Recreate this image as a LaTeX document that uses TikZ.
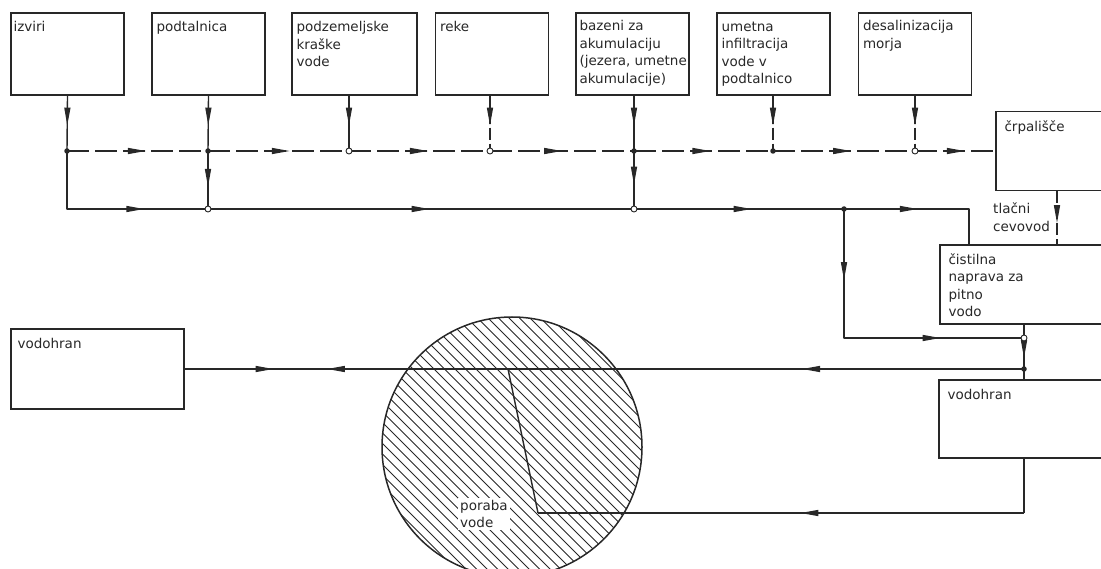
\documentclass[tikz,border=0pt]{standalone}
\usepackage{fontspec}
\setmainfont{DejaVu Sans}
\usetikzlibrary{arrows.meta,decorations.markings}
\definecolor{ink}{RGB}{40,40,40}

\begin{document}
\begin{tikzpicture}[
    x=1pt, y=-1pt,
    color=ink,
    % Define Styles
    box/.style={
        draw,
        rectangle,
        line width=1.3pt,
        inner sep=0pt
    },
    topbox/.style={
        box,
        minimum width=113pt,
        minimum height=82pt
    },
    lbl/.style={
        anchor=north west,
        align=left,
        inner sep=0pt,
        font=\fontsize{13.5}{17.5}\selectfont
    },
    pipe/.style={
        draw,
        line width=1.4pt,
        line join=round
    },
    dashpipe/.style={
        pipe,
        dash pattern=on 22pt off 6pt
    },
    droppipe/.style={
        pipe,
        dash pattern=on 12pt off 4pt
    },
    flow/.style={
        postaction={decorate, decoration={markings,
            mark=at position #1 with {\arrow{Triangle[length=18pt,width=6pt]}}}}
    },
    flowback/.style={
        postaction={decorate, decoration={markings,
            mark=at position #1 with {\arrowreversed{Triangle[length=18pt,width=6pt]}}}}
    },
    fulldot/.style={
        circle,
        fill,
        inner sep=0pt,
        minimum size=5.5pt
    },
    opendot/.style={
        circle,
        draw,
        fill=white,
        line width=0.9pt,
        inner sep=0pt,
        minimum size=6pt
    },
    hatch/.style={
        line width=0.9pt
    }
    ]

    % Page
    \fill[white] (0,0) rectangle (1101,569);
    \useasboundingbox (0,0) rectangle (1101,569);

    % Define Coordinates
    \coordinate (j1) at (67,151);    % dashed collector
    \coordinate (j2) at (208,151);
    \coordinate (j3) at (349,151);
    \coordinate (j4) at (490,151);
    \coordinate (j5) at (634,151);
    \coordinate (j6) at (773,151);
    \coordinate (j7) at (915,151);
    \coordinate (k1) at (67,209);    % solid collector
    \coordinate (k2) at (208,209);
    \coordinate (k3) at (634,209);
    \coordinate (k4) at (844,209);
    \coordinate (k5) at (969,209);
    \coordinate (m1) at (844,338);   % bypass
    \coordinate (m2) at (1024,338);
    \coordinate (m3) at (1024,369);
    \coordinate (p1) at (1057,0);    % pressure main
    \coordinate (r1) at (1024,513);  % return
    \coordinate (r2) at (538,513);
    \coordinate (r3) at (508,369);
    \coordinate (pc) at (512,447);   % consumption

    % Boxes
    \node[topbox] (izviri) at (67.5,54) {};
    \node[topbox] (podtalnica) at (208.5,54) {};
    \node[topbox, minimum width=125pt] (podzemne) at (354.5,54) {};
    \node[topbox] (reke) at (492,54) {};
    \node[topbox] (bazeni) at (632.5,54) {};
    \node[topbox] (umetna) at (773.5,54) {};
    \node[topbox] (desal) at (915,54) {};
    \node[box, minimum width=115pt, minimum height=79pt] (crpalisce) at (1053.5,151) {};
    \node[box, minimum width=170pt, minimum height=79pt] (cistilna) at (1025,284.5) {};
    \node[box, minimum width=171pt, minimum height=78pt] (vodohranR) at (1024.5,419) {};
    \node[box, minimum width=173pt, minimum height=80pt] (vodohranL) at (97.5,369) {};

    % Consumption circle
    \begin{scope}
        \clip (pc) circle (130);
        \foreach \s in {-346.5,-336,...,346.5}
            \draw[hatch] ([shift={(\s-200,-200)}]pc) -- ([shift={(\s+200,200)}]pc);
    \end{scope}
    \node[circle, draw, line width=1.5pt, minimum size=260pt, inner sep=0pt] (poraba) at (pc) {};

    % Drops from the sources
    \draw[pipe, flow=0.54] (izviri.south) -- (j1);
    \draw[pipe, flow=0.54] (podtalnica.south) -- (j2);
    \draw[pipe, flow=0.54] (podzemne.south -| j3) -- (j3);
    \draw[droppipe, flow=0.54] (reke.south -| j4) -- (j4);
    \draw[pipe, flow=0.54] (bazeni.south -| j5) -- (j5);
    \draw[droppipe, flow=0.54] (umetna.south -| j6) -- (j6);
    \draw[droppipe, flow=0.54] (desal.south) -- (j7);

    % Dashed collector
    \draw[dashpipe, flow=0.56] (j1) -- (j2);
    \draw[dashpipe, flow=0.58] (j2) -- (j3);
    \draw[dashpipe, flow=0.56] (j3) -- (j4);
    \draw[dashpipe, flow=0.5] (j4) -- (j5);
    \draw[dashpipe, flow=0.55] (j5) -- (j6);
    \draw[dashpipe, flow=0.55] (j6) -- (j7);
    \draw[dashpipe, flow=0.62] (j7) -- (crpalisce.west);

    % Solid collector
    \draw[pipe, flow=0.68] (j1) -- (k1) -- (k2);
    \draw[pipe, flow=0.62] (j2) -- (k2);
    \draw[pipe, flow=0.52] (k2) -- (k3);
    \draw[pipe, flow=0.58] (j5) -- (k3);
    \draw[pipe, flow=0.56] (k3) -- (k4);
    \draw[pipe, flow=0.46] (k4) -- (k5) -- (cistilna.north -| k5);
    \draw[pipe, flow=0.23, flow=0.73] (k4) -- (m1) -- (m2);

    % Pressure main and storage
    \draw[droppipe, flow=0.6] (crpalisce.south -| p1) -- (cistilna.north -| p1);
    \draw[pipe] (cistilna.south -| m2) -- (m2);
    \draw[pipe, flow=0.65] (m2) -- (m3);
    \draw[pipe] (m3) -- (vodohranR.north -| m3);

    % Distribution and return
    \draw[pipe, flow=0.43] (m3) -- (r3);
    \draw[pipe, flow=0.56, flowback=0.725] (r3) -- (vodohranL.east);
    \draw[pipe] (vodohranR.south -| r1) -- (r1);
    \draw[pipe, flow=0.46] (r1) -- (r2);
    \draw[pipe] (r2) -- (r3);

    % Junctions
    \foreach \c in {j1,j2,j5,j6,k4,m3}
        \node[fulldot] (dot-\c) at (\c) {};
    \foreach \c in {j3,j4,j7,k2,k3,m2}
        \node[opendot] (dot-\c) at (\c) {};

    % Labels
    \node[lbl] (t-izviri) at ([xshift=3pt,yshift=-9pt]izviri.north west) {izviri};
    \node[lbl] (t-podtalnica) at ([xshift=5pt,yshift=-9pt]podtalnica.north west) {podtalnica};
    \node[lbl] (t-podzemne) at ([xshift=5pt,yshift=-9pt]podzemne.north west) {podzemeljske\\kraške\\vode};
    \node[lbl] (t-reke) at ([xshift=5pt,yshift=-9pt]reke.north west) {reke};
    \node[lbl] (t-bazeni) at ([xshift=4pt,yshift=-8pt]bazeni.north west) {bazeni za\\akumulaciju\\(jezera, umetne\\akumulacije)};
    \node[lbl] (t-umetna) at ([xshift=5pt,yshift=-9pt]umetna.north west) {umetna\\infiltracija\\vode v\\podtalnico};
    \node[lbl] (t-desal) at ([xshift=5pt,yshift=-8pt]desal.north west) {desalinizacija\\morja};
    \node[lbl] (t-crpalisce) at ([xshift=9pt,yshift=-10pt]crpalisce.north west) {črpališče};
    \node[lbl] (t-tlacni) at (993,203) {tlačni\\cevovod};
    \node[lbl] (t-cistilna) at ([xshift=9pt,yshift=-9pt]cistilna.north west) {čistilna\\naprava za\\pitno\\vodo};
    \node[lbl] (t-vodohranR) at ([xshift=9pt,yshift=-10pt]vodohranR.north west) {vodohran};
    \node[lbl] (t-vodohranL) at ([xshift=7pt,yshift=-10pt]vodohranL.north west) {vodohran};
    \node[lbl, fill=white, inner sep=2pt] (t-poraba) at (458,498) {poraba\\vode};

\end{tikzpicture}
\end{document}
